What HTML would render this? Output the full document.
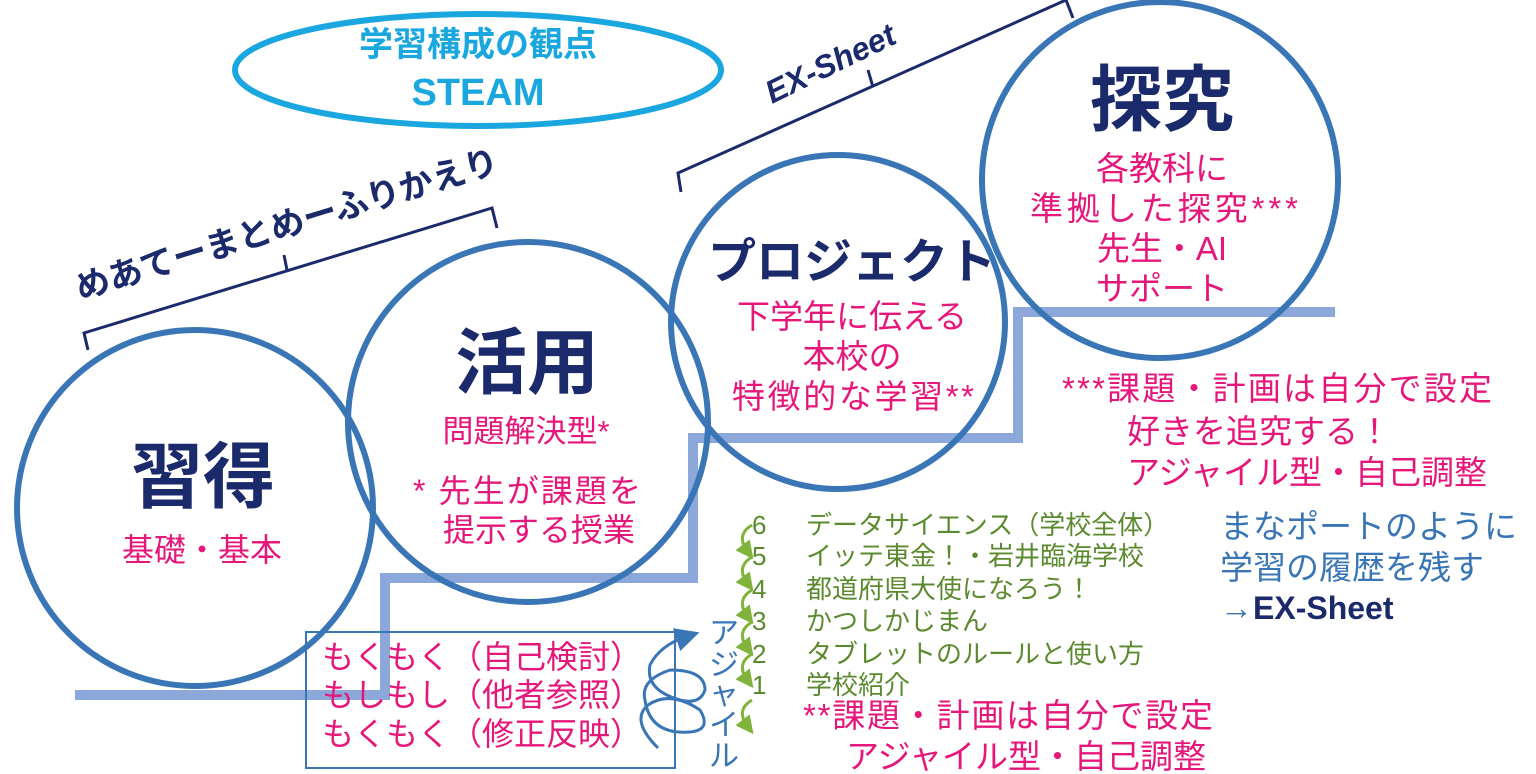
<!DOCTYPE html>
<html><head><meta charset="utf-8"><style>
html,body{margin:0;padding:0;background:#fff;width:1536px;height:774px;overflow:hidden}
svg{display:block}
text{font-family:"Liberation Sans","Noto Sans CJK JP",sans-serif}
.t{fill:#1b2a6b;font-weight:bold}
.p{fill:#e6177a}
.g{fill:#5b8a2e}
.b{fill:#3a76b5}
</style></head><body>
<svg width="1536" height="774" viewBox="0 0 1536 774" xmlns="http://www.w3.org/2000/svg">
<defs><marker id="ag" markerWidth="6" markerHeight="6" refX="3" refY="3" orient="auto"><path d="M0,0L6,3L0,6z" fill="#7fb33a"/></marker>
<marker id="ab" markerWidth="8" markerHeight="8" refX="4" refY="4" orient="auto"><path d="M0,0L8,4L0,8z" fill="#3a76b5"/></marker></defs>
<polyline points="75,695 385,695 385,578 693,578 693,438 1018,438 1018,312 1335,312" fill="none" stroke="#7f9fd6" stroke-width="10" opacity="0.9"/>
<ellipse cx="478" cy="70" rx="243" ry="56" fill="none" stroke="#1aa7e0" stroke-width="6"/>
<text x="478" y="56" text-anchor="middle" font-size="34" font-weight="bold" fill="#1aa7e0">学習構成の観点</text>
<text x="478" y="105" text-anchor="middle" font-size="38" font-weight="bold" fill="#1aa7e0">STEAM</text>
<g stroke="#1b2a6b" stroke-width="3" fill="none">
<polyline points="88,350 84,333 492,208 497,228"/>
<polyline points="287,270 284,255"/>
<polyline points="681,192 678,173 1066,0 1073,18"/>
<polyline points="873,87 868,70"/>
</g>
<text transform="translate(80,300) rotate(-17)" font-size="34" class="t">めあてーまとめーふりかえり</text>
<text transform="translate(772,104) rotate(-26)" font-size="32" class="t" font-style="italic">EX-Sheet</text>
<g fill="none" stroke="#3a76b5" stroke-width="6">
<circle cx="195" cy="508" r="178"/>
<circle cx="528" cy="422" r="180"/>
<circle cx="838" cy="322" r="167"/>
<circle cx="1160" cy="180" r="178"/>
</g>
<text x="203" y="502" text-anchor="middle" font-size="72" class="t">習得</text>
<text x="202" y="561" text-anchor="middle" font-size="32" class="p">基礎・基本</text>
<text x="527" y="388" text-anchor="middle" font-size="72" class="t">活用</text>
<text x="526" y="442" text-anchor="middle" font-size="31" class="p">問題解決型*</text>
<text x="413" y="502" font-size="32" class="p" textLength="228">* 先生が課題を</text>
<text x="443" y="541" font-size="32" class="p">提示する授業</text>
<text x="852" y="278" text-anchor="middle" font-size="48" class="t">プロジェクト</text>
<text x="852" y="328" text-anchor="middle" font-size="33" class="p">下学年に伝える</text>
<text x="852" y="368" text-anchor="middle" font-size="33" class="p">本校の</text>
<text x="732" y="408" font-size="33" class="p" textLength="242">特徴的な学習**</text>
<text x="1162" y="125" text-anchor="middle" font-size="72" class="t">探究</text>
<text x="1162" y="180" text-anchor="middle" font-size="33" class="p">各教科に</text>
<text x="1030" y="220" font-size="33" class="p" textLength="268">準拠した探究***</text>
<text x="1162" y="260" text-anchor="middle" font-size="33" class="p">先生・AI</text>
<text x="1162" y="300" text-anchor="middle" font-size="33" class="p">サポート</text>
<text x="1062" y="400" font-size="33" class="p" textLength="430">***課題・計画は自分で設定</text>
<text x="1127" y="443" font-size="33" class="p">好きを追究する！</text>
<text x="1127" y="484" font-size="33" class="p">アジャイル型・自己調整</text>
<text x="1220" y="538" font-size="33" class="b">まなポートのように</text>
<text x="1220" y="579" font-size="33" class="b">学習の履歴を残す</text>
<text x="1220" y="619" font-size="33" class="b">→<tspan class="t" font-size="32">EX-Sheet</tspan></text>
<g font-size="26" class="g">
<text x="752" y="534">6</text><text x="806" y="534">データサイエンス（学校全体）</text>
<text x="752" y="565">5</text><text x="806" y="565">イッテ東金！・岩井臨海学校</text>
<text x="752" y="598">4</text><text x="806" y="598">都道府県大使になろう！</text>
<text x="752" y="630">3</text><text x="806" y="630">かつしかじまん</text>
<text x="752" y="663">2</text><text x="806" y="663">タブレットのルールと使い方</text>
<text x="752" y="694">1</text><text x="806" y="694">学校紹介</text>
</g>
<g fill="none" stroke="#7fb33a" stroke-width="3" marker-end="url(#ag)">
<path d="M752,525 Q735,535 748,552"/>
<path d="M752,557 Q735,567 748,584"/>
<path d="M752,590 Q735,600 748,617"/>
<path d="M752,622 Q735,632 748,649"/>
<path d="M752,654 Q735,664 748,681"/>
<path d="M752,700 Q735,710 748,727"/>
</g>
<text x="803" y="727" font-size="33" class="p" textLength="410">**課題・計画は自分で設定</text>
<text x="846" y="768" font-size="33" class="p">アジャイル型・自己調整</text>
<rect x="306" y="632" width="369" height="136" fill="none" stroke="#3a76b5" stroke-width="2"/>
<text x="322" y="668" font-size="32" class="p">もくもく（自己検討）</text>
<text x="322" y="706" font-size="32" class="p">もしもし（他者参照）</text>
<text x="322" y="745" font-size="32" class="p">もくもく（修正反映）</text>
<path d="M658,748 Q630,720 648,705 Q670,690 700,710 Q712,730 690,732 Q650,735 645,700 Q640,680 670,670 Q705,670 705,690 Q700,705 680,700 Q645,690 650,665 Q660,645 688,636" fill="none" stroke="#3a76b5" stroke-width="3" marker-end="url(#ab)"/>
<g font-size="30" class="b" text-anchor="middle">
<text x="724" y="643">ア</text><text x="724" y="675">ジ</text><text x="724" y="704">ャ</text><text x="724" y="735">イ</text><text x="724" y="766">ル</text>
</g>
</svg>
</body></html>
